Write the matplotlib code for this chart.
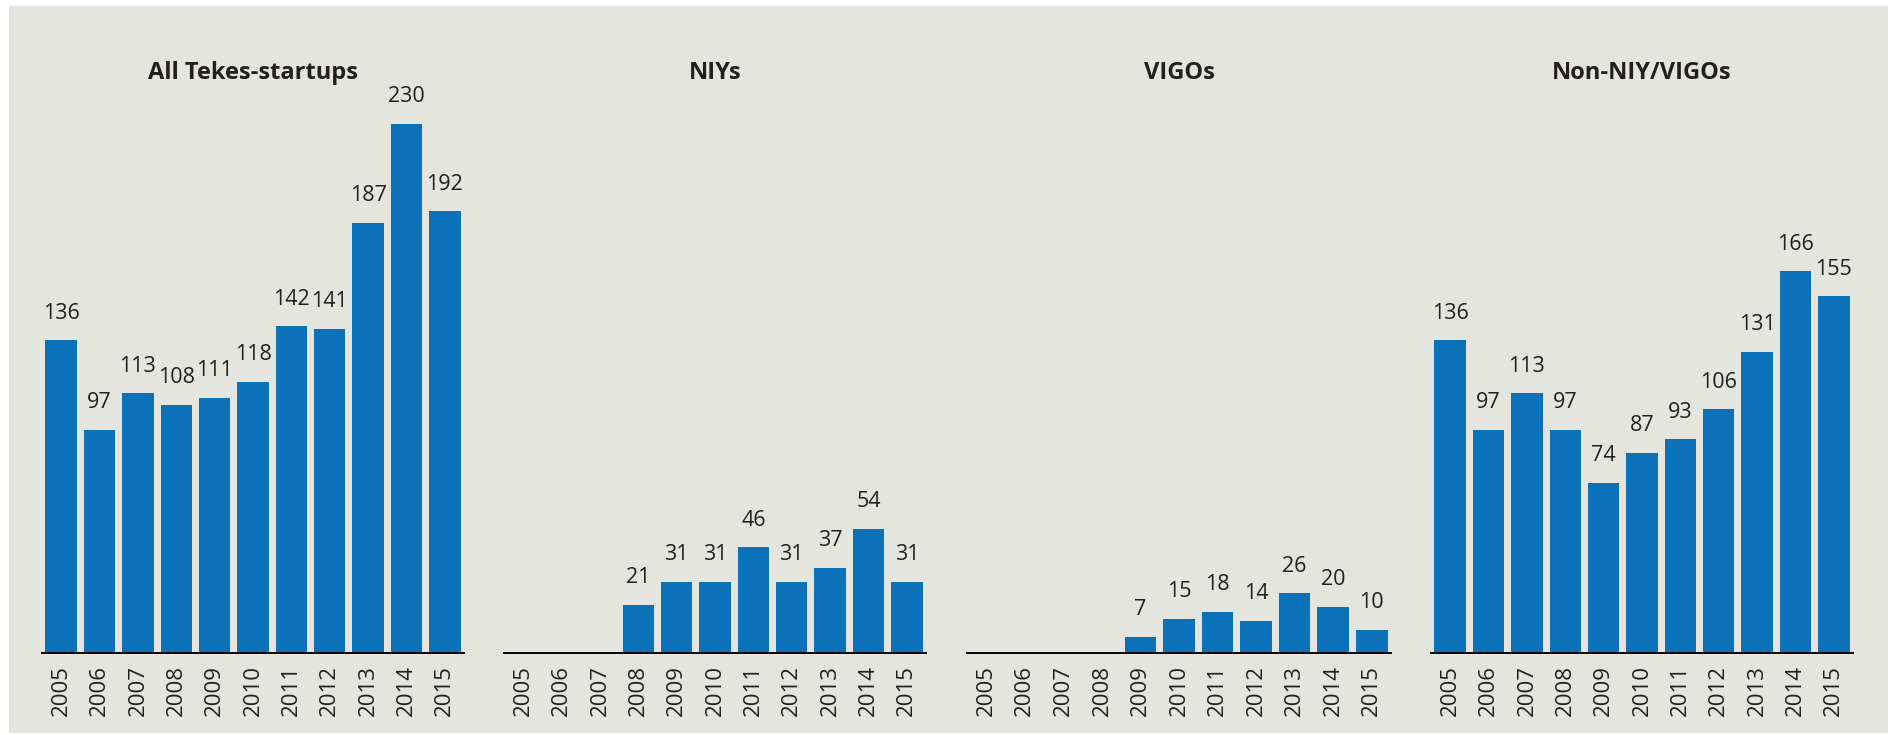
import matplotlib
matplotlib.use("Agg")
import matplotlib.pyplot as plt
from matplotlib.patches import Rectangle

years = [str(y) for y in range(2005, 2016)]
titles = ["All Tekes-startups", "NIYs", "VIGOs", "Non-NIY/VIGOs"]
all_startups = [136, 97, 113, 108, 111, 118, 142, 141, 187, 230, 192]
niys = [0, 0, 0, 21, 31, 31, 46, 31, 37, 54, 31]
vigos = [0, 0, 0, 0, 7, 15, 18, 14, 26, 20, 10]
non_niy_vigos = [136, 97, 113, 97, 74, 87, 93, 106, 131, 166, 155]
series = [all_startups, niys, vigos, non_niy_vigos]

W, H = 1888, 735
bar_color = "#0b71b9"
bg_color = "#e4e5de"
text_color = "#231f20"

plt.rcParams['font.family'] = ['Open Sans', 'DejaVu Sans']

fig = plt.figure(figsize=(W / 100, H / 100), dpi=100, facecolor="white")
fig.patches.append(Rectangle((9 / W, 2 / H), 1 - 9 / W, (H - 8) / H,
                             transform=fig.transFigure, facecolor=bg_color,
                             edgecolor="none", linewidth=0, zorder=-10))

# panel left/right edges in pixels
panels = [(42, 464), (504, 926), (967, 1391), (1431, 1853)]
base_y = 653
top_y = 75
px_per_unit = 2.3

for (x0, x1), title, vals in zip(panels, titles, series):
    ax = fig.add_axes([x0 / W, (H - base_y) / H, (x1 - x0) / W, (base_y - top_y) / H])
    ax.set_facecolor("none")
    xs = range(len(years))
    ax.bar(xs, vals, width=0.82, color=bar_color)
    ax.set_xlim(-0.5, len(years) - 0.5)
    ax.set_ylim(0, (base_y - top_y) / px_per_unit)
    for x, v in zip(xs, vals):
        if v > 0:
            ax.annotate(str(v), (x, v), xytext=(0, 19.5), textcoords="offset points",
                        ha="center", va="center", fontsize=15.5, color=text_color)
    ax.set_xticks(list(xs))
    ax.set_xticklabels(years, rotation=90, fontsize=16, color=text_color)
    ax.tick_params(axis="x", length=0, pad=9)
    ax.set_yticks([])
    for s in ["top", "right", "left"]:
        ax.spines[s].set_visible(False)
    ax.spines["bottom"].set_linewidth(1.4)
    ax.spines["bottom"].set_color("black")
    fig.text((x0 + x1) / 2 / W, (H - 73) / H, title, ha="center", va="center",
             fontsize=17, fontweight="bold", color=text_color)

fig.savefig("out.png", dpi=100, facecolor=fig.get_facecolor())
